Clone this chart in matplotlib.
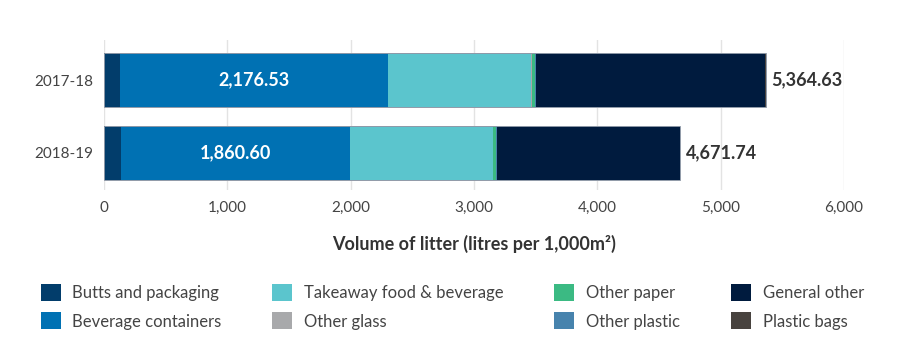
import matplotlib.pyplot as plt
import numpy as np

plt.rcParams['font.family'] = ['Lato', 'DejaVu Sans']

years = ['2017-18', '2018-19']
categories = ['Butts and packaging', 'Beverage containers', 'Takeaway food & beverage',
              'Other glass', 'Other paper', 'Other plastic', 'General other', 'Plastic bags']
colors = ['#023d6b', '#0071b3', '#5bc5cd', '#a8a9ab', '#3bba83', '#4783ad', '#001b3e', '#48433f']

# values (litres per 1,000m2)
butts = [127, 134]
beverage = [2176.53, 1860.60]
takeaway = [1160, 1156]
other_glass = [5, 4]
other_paper = [30, 26]
other_plastic = [5, 4]
plastic_bags = [3, 2]
totals = [5364.63, 4671.74]
general_other = [t - (a + b + c + d + e + f + g) for t, a, b, c, d, e, f, g in
                 zip(totals, butts, beverage, takeaway, other_glass, other_paper, other_plastic, plastic_bags)]

series = [butts, beverage, takeaway, other_glass, other_paper, other_plastic, general_other, plastic_bags]

fig = plt.figure(figsize=(9, 3.58), dpi=100)
ax = fig.add_axes([104 / 900, 1 - 190 / 358, 740 / 900, 150 / 358])

y = np.arange(len(years))
left = np.zeros(len(years))
for name, vals, col in zip(categories, series, colors):
    ax.barh(y, vals, left=left, height=0.73, color=col, label=name,
            edgecolor='none', zorder=3)
    left += np.array(vals)
# thin outline round each whole bar
ax.barh(y, totals, height=0.73, fill=False, edgecolor='#8f99a8', linewidth=0.7, zorder=4)

# labels
for i in range(len(years)):
    ax.text(butts[i] + beverage[i] / 2, y[i], f'{beverage[i]:,.2f}', color='white',
            ha='center', va='center', fontsize=13, fontweight='bold', zorder=5)
    ax.annotate(f'{totals[i]:,.2f}', (totals[i], y[i]), xytext=(4, 0), textcoords='offset points',
                ha='left', va='center', fontsize=13, fontweight='bold', color='#333333')

ax.set_xlim(0, 6000)
ax.set_ylim(1.507, -0.548)
ax.set_yticks(y)
ax.set_yticklabels(years, fontsize=11, color='#444444')
ax.set_xticks(np.arange(0, 6001, 1000))
ax.set_xticklabels([f'{v:,}' for v in range(0, 6001, 1000)], fontsize=11, color='#444444')
ax.tick_params(length=0, pad=8)
ax.grid(axis='x', color='#e3e3e3', linewidth=1, zorder=0)
for s in ax.spines.values():
    s.set_visible(False)
ax.set_xlabel('Volume of litter (litres per 1,000m²)', fontsize=13, fontweight='bold',
              color='#333333', labelpad=14)

fig.legend(loc='upper left', bbox_to_anchor=(0.045, 0.208), ncol=4, frameon=False,
           fontsize=12, handlelength=1.2, handleheight=1.2, handletextpad=0.7,
           columnspacing=3.05, labelspacing=0.7, borderaxespad=0, borderpad=0,
           labelcolor='#444444')

plt.savefig('out.png', dpi=100)
